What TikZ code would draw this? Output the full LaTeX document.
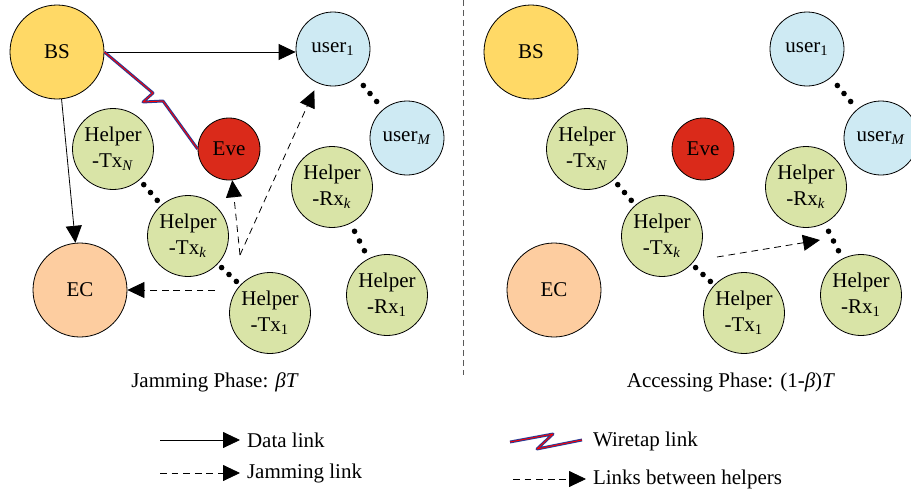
\documentclass[tikz,border=0pt]{standalone}
\usepackage{fontspec}
\setmainfont{Liberation Serif}
\usetikzlibrary{arrows.meta,calc}
\definecolor{bscolor}{RGB}{255,217,102}
\definecolor{usercolor}{RGB}{206,234,243}
\definecolor{evecolor}{RGB}{218,42,26}
\definecolor{helpercolor}{RGB}{217,228,167}
\definecolor{eccolor}{RGB}{253,205,160}
\definecolor{wireblue}{RGB}{40,60,150}
\tikzset{
    station/.style={circle,draw=black,thin,inner sep=0pt,align=center,
        font=\fontsize{10.5}{13}\selectfont},
    bs node/.style={station,fill=bscolor,minimum size=47pt},
    ec node/.style={station,fill=eccolor,minimum size=47pt},
    user node/.style={station,fill=usercolor,minimum size=37pt},
    eve node/.style={station,fill=evecolor,minimum size=31pt},
    helper node/.style={station,fill=helpercolor,minimum size=40.5pt},
    tip/.style={-{Triangle[length=8.5pt,width=8pt]}},
    data link/.style={tip,thin},
    jam link/.style={tip,thin,dash pattern=on 3.4pt off 2.4pt},
    wiretap/.style={draw=wireblue,double=red,double distance=0.45pt,line width=0.5pt,line join=round},
    phase label/.style={font=\fontsize{10.5}{13}\selectfont},
    legend text/.style={anchor=west,font=\fontsize{10.5}{13}\selectfont},
}
% three dots between two neighbouring nodes
\newcommand{\chaindots}[2]{%
    \foreach \t in {0.41,0.5,0.59}{\fill ($(#1)!\t!(#2)$) circle[radius=1.4pt];}}

\begin{document}
\begin{tikzpicture}[x=0.5pt,y=-0.5pt]
    \useasboundingbox (0,0) rectangle (911,493);

    % both phases share the same layout
    \foreach \ph/\dx in {jam/0,acc/474}{
        \begin{scope}[xshift=\dx*0.5pt]
            \node[bs node] (\ph-bs) at (57,52) {BS};
            \node[user node] (\ph-u1) at (333,49) {user\textsubscript{1}};
            \node[user node] (\ph-um) at (407,138) {user\textsubscript{\textit{M}}};
            \node[eve node] (\ph-eve) at (229,149) {Eve};
            \node[helper node] (\ph-txn) at (113,149) {Helper\\-Tx\textsubscript{\textit{N}}};
            \node[helper node] (\ph-txk) at (188,236) {Helper\\-Tx\textsubscript{\textit{k}}};
            \node[helper node] (\ph-tx1) at (270,313) {Helper\\-Tx\textsubscript{1}};
            \node[helper node] (\ph-rxk) at (332,187) {Helper\\-Rx\textsubscript{\textit{k}}};
            \node[helper node] (\ph-rx1) at (387,295) {Helper\\-Rx\textsubscript{1}};
            \node[ec node] (\ph-ec) at (80,290) {EC};
            \chaindots{\ph-txn}{\ph-txk}
            \chaindots{\ph-txk}{\ph-tx1}
            \chaindots{\ph-u1}{\ph-um}
            \chaindots{\ph-rxk}{\ph-rx1}
        \end{scope}
    }

    % jamming phase links
    \draw[data link] (jam-bs.east) -- (jam-bs.east -| jam-u1.west);
    \draw[data link] (jam-bs) -- (jam-ec);
    \coordinate (jam-zig1) at (153,93);
    \coordinate (jam-zig2) at (143,102);
    \coordinate (jam-zig3) at (163,101);
    \draw[wiretap] (jam-bs.east) -- (jam-zig1) -- (jam-zig2) -- (jam-zig3) -- (jam-eve.west);
    \coordinate (jam-src) at (240,255);
    \draw[jam link] (jam-src) -- (jam-eve);
    \draw[jam link,shorten >=4pt] (jam-src) -- (jam-u1);
    \coordinate (jam-ecsrc) at (215,290);
    \draw[jam link] (jam-ecsrc) -- (jam-ec);

    % accessing phase link
    \coordinate (acc-src) at (717,257);
    \coordinate (acc-dst) at (820,240);
    \draw[jam link] (acc-src) -- (acc-dst);

    % divider between the phases
    \draw[gray!70!black,thin,dash pattern=on 3pt off 2pt] (463,0) -- (463,375);

    \node[phase label] (jam-title) at (215,382) {Jamming Phase: \textit{β}\textit{T}};
    \node[phase label] (acc-title) at (731,382) {Accessing Phase: (1-\textit{β})\textit{T}};

    % legend
    \node[legend text] (lg-data) at (240,440) {Data link};
    \draw[data link] ($(lg-data.west)+(-80,0)$) -- (lg-data.west);
    \node[legend text] (lg-jam) at (240,473) {Jamming link};
    \draw[jam link] ($(lg-jam.west)+(-80,0)$) -- (lg-jam.west);
    \node[legend text] (lg-wire) at (586,441) {Wiretap link};
    \draw[wiretap] ($(lg-wire.west)+(-76,1)$) -- ($(lg-wire.west)+(-33,-7)$)
        -- ($(lg-wire.west)+(-49,8)$) -- ($(lg-wire.west)+(-4,-1)$);
    \node[legend text] (lg-help) at (586,479) {Links between helpers};
    \draw[jam link] ($(lg-help.west)+(-73,0)$) -- (lg-help.west);
\end{tikzpicture}
\end{document}
